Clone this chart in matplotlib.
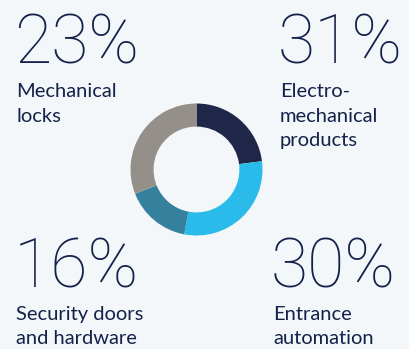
import matplotlib
matplotlib.use("Agg")
import matplotlib.pyplot as plt

# share of sales by product group, clockwise from 12 o'clock
segments = ["Mechanical locks", "Entrance automation",
            "Security doors and hardware", "Electromechanical products"]
shares = [23, 30, 16, 31]
seg_colors = ["#1f2648", "#2bbbea", "#35809c", "#958f89"]

# corner labels: (value, caption lines)
corner_values = ["23%", "31%", "16%", "30%"]
corner_captions = ["Mechanical\nlocks", "Electro-\nmechanical\nproducts",
                   "Security doors\nand hardware", "Entrance\nautomation"]

BG = "#f3f7fa"
INK = "#14214a"
W, H = 410, 349

fig = plt.figure(figsize=(W / 100, H / 100), dpi=100, facecolor=BG)

# donut, centre at (196.5, 169.5) px from top-left, radius 66 px
cx, cy, r = 196.5, 169.5, 66
ax = fig.add_axes([(cx - r) / W, (H - cy - r) / H, 2 * r / W, 2 * r / H])
ax.pie(shares, colors=seg_colors, startangle=90, counterclock=False,
       radius=1.0, wedgeprops=dict(width=0.35, linewidth=0))
ax.set_xlim(-1, 1)
ax.set_ylim(-1, 1)
ax.set_aspect("equal")
ax.axis("off")

# (left x, number baseline, caption first baseline) in px from top
places = [(14, 63, 97), (278, 63, 97), (14, 287, 320), (271, 287, 320)]
for (x, yb, yc), val, cap in zip(places, corner_values, corner_captions):
    fig.text(x / W, 1 - yb / H, val, fontsize=49, color=INK,
             family="Roboto", fontweight="light", va="baseline", ha="left")
    for i, line in enumerate(cap.split("\n")):
        fig.text((x + 2) / W, 1 - (yc + i * 24.5) / H, line, fontsize=14.5,
                 color=INK, family="Lato", va="baseline", ha="left")

fig.savefig("out.png", dpi=100, facecolor=BG)
